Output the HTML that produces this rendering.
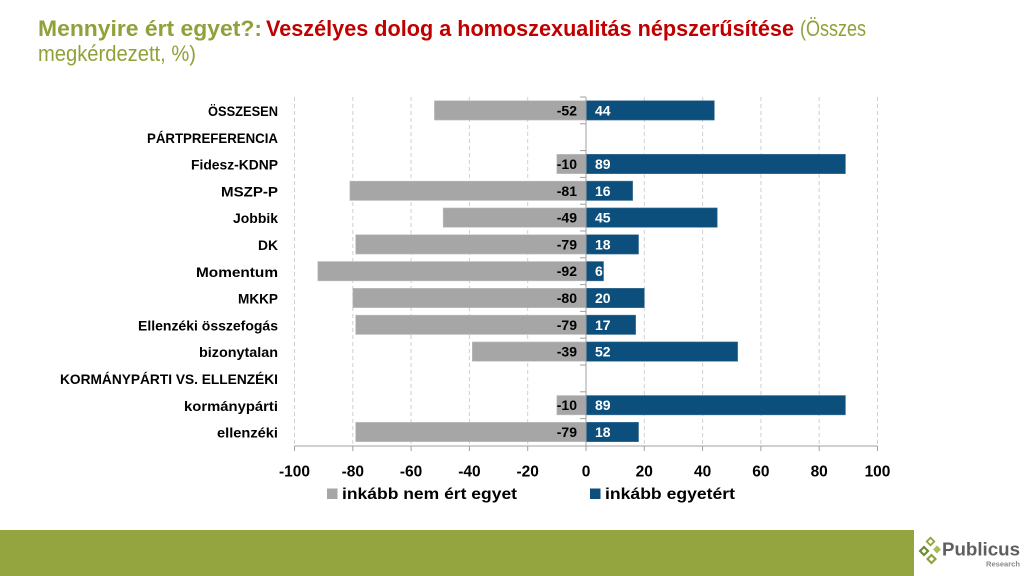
<!DOCTYPE html>
<html>
<head>
<meta charset="utf-8">
<style>
html,body{margin:0;padding:0;background:#fff;}
svg{display:block;}
text{font-family:"Liberation Sans",Arial,sans-serif;}
</style>
</head>
<body>
<svg width="1024" height="576" viewBox="0 0 1024 576" xmlns="http://www.w3.org/2000/svg">
<rect width="1024" height="576" fill="#fff"/>

<!-- Title -->
<text x="38" y="36" font-size="22" font-weight="bold" fill="#8FA23A" textLength="224" lengthAdjust="spacingAndGlyphs">Mennyire ért egyet?:</text>
<text x="266" y="36" font-size="22" font-weight="bold" fill="#C00000" textLength="528" lengthAdjust="spacingAndGlyphs">Veszélyes dolog a homoszexualitás népszerűsítése</text>
<text x="800" y="36" font-size="22" fill="#8FA23A" textLength="66" lengthAdjust="spacingAndGlyphs">(Összes</text>
<text x="38" y="61" font-size="22" fill="#8FA23A" textLength="158" lengthAdjust="spacingAndGlyphs">megkérdezett, %)</text>

<!-- Gridlines -->
<g stroke="#D0D0D0" stroke-width="1" stroke-dasharray="4,3">
<line x1="294.5" y1="97" x2="294.5" y2="446"/>
<line x1="352.8" y1="97" x2="352.8" y2="446"/>
<line x1="411.1" y1="97" x2="411.1" y2="446"/>
<line x1="469.4" y1="97" x2="469.4" y2="446"/>
<line x1="527.7" y1="97" x2="527.7" y2="446"/>
<line x1="644.3" y1="97" x2="644.3" y2="446"/>
<line x1="702.6" y1="97" x2="702.6" y2="446"/>
<line x1="760.9" y1="97" x2="760.9" y2="446"/>
<line x1="819.2" y1="97" x2="819.2" y2="446"/>
<line x1="877.5" y1="97" x2="877.5" y2="446"/>
</g>

<!-- Bars: gray (negative) -->
<g fill="#A6A6A6" stroke="#BFBFBF" stroke-width="0.6">
<rect x="434.4" y="100.75" width="151.6" height="19.3"/>
<rect x="556.85" y="154.35" width="29.15" height="19.3"/>
<rect x="349.9" y="181.15" width="236.1" height="19.3"/>
<rect x="443.2" y="207.95" width="142.8" height="19.3"/>
<rect x="355.7" y="234.75" width="230.3" height="19.3"/>
<rect x="317.8" y="261.55" width="268.2" height="19.3"/>
<rect x="352.8" y="288.35" width="233.2" height="19.3"/>
<rect x="355.7" y="315.15" width="230.3" height="19.3"/>
<rect x="472.3" y="341.95" width="113.7" height="19.3"/>
<rect x="556.85" y="395.55" width="29.15" height="19.3"/>
<rect x="355.7" y="422.35" width="230.3" height="19.3"/>
</g>

<!-- Bars: blue (positive) -->
<g fill="#0D4F7C" stroke="#3A6E95" stroke-width="0.6">
<rect x="586" y="100.75" width="128.3" height="19.3"/>
<rect x="586" y="154.35" width="259.4" height="19.3"/>
<rect x="586" y="181.15" width="46.6" height="19.3"/>
<rect x="586" y="207.95" width="131.2" height="19.3"/>
<rect x="586" y="234.75" width="52.5" height="19.3"/>
<rect x="586" y="261.55" width="17.5" height="19.3"/>
<rect x="586" y="288.35" width="58.3" height="19.3"/>
<rect x="586" y="315.15" width="49.6" height="19.3"/>
<rect x="586" y="341.95" width="151.6" height="19.3"/>
<rect x="586" y="395.55" width="259.4" height="19.3"/>
<rect x="586" y="422.35" width="52.5" height="19.3"/>
</g>

<!-- Axes -->
<g stroke="#A0A0A0" stroke-width="1">
<line x1="586" y1="97" x2="586" y2="446"/>
<line x1="294.5" y1="446" x2="877.5" y2="446"/>
<line x1="580" y1="97" x2="586" y2="97"/>
<line x1="580" y1="123.8" x2="586" y2="123.8"/>
<line x1="580" y1="150.6" x2="586" y2="150.6"/>
<line x1="580" y1="177.4" x2="586" y2="177.4"/>
<line x1="580" y1="204.2" x2="586" y2="204.2"/>
<line x1="580" y1="231" x2="586" y2="231"/>
<line x1="580" y1="257.8" x2="586" y2="257.8"/>
<line x1="580" y1="284.6" x2="586" y2="284.6"/>
<line x1="580" y1="311.4" x2="586" y2="311.4"/>
<line x1="580" y1="338.2" x2="586" y2="338.2"/>
<line x1="580" y1="365" x2="586" y2="365"/>
<line x1="580" y1="391.8" x2="586" y2="391.8"/>
<line x1="580" y1="418.6" x2="586" y2="418.6"/>
<line x1="294.5" y1="446" x2="294.5" y2="451"/>
<line x1="352.8" y1="446" x2="352.8" y2="451"/>
<line x1="411.1" y1="446" x2="411.1" y2="451"/>
<line x1="469.4" y1="446" x2="469.4" y2="451"/>
<line x1="527.7" y1="446" x2="527.7" y2="451"/>
<line x1="586" y1="446" x2="586" y2="451"/>
<line x1="644.3" y1="446" x2="644.3" y2="451"/>
<line x1="702.6" y1="446" x2="702.6" y2="451"/>
<line x1="760.9" y1="446" x2="760.9" y2="451"/>
<line x1="819.2" y1="446" x2="819.2" y2="451"/>
<line x1="877.5" y1="446" x2="877.5" y2="451"/>
</g>

<!-- Negative data labels -->
<g font-size="14" font-weight="bold" fill="#000" text-anchor="end">
<text x="577" y="115.5">-52</text>
<text x="577" y="169">-10</text>
<text x="577" y="195.8">-81</text>
<text x="577" y="222.6">-49</text>
<text x="577" y="249.4">-79</text>
<text x="577" y="276.2">-92</text>
<text x="577" y="303">-80</text>
<text x="577" y="329.8">-79</text>
<text x="577" y="356.6">-39</text>
<text x="577" y="410.2">-10</text>
<text x="577" y="437">-79</text>
</g>

<!-- Positive data labels -->
<g font-size="14" font-weight="bold" fill="#fff">
<text x="595" y="115.5">44</text>
<text x="595" y="169">89</text>
<text x="595" y="195.8">16</text>
<text x="595" y="222.6">45</text>
<text x="595" y="249.4">18</text>
<text x="595" y="276.2">6</text>
<text x="595" y="303">20</text>
<text x="595" y="329.8">17</text>
<text x="595" y="356.6">52</text>
<text x="595" y="410.2">89</text>
<text x="595" y="437">18</text>
</g>

<!-- Category labels -->
<g font-size="14" font-weight="bold" fill="#000" text-anchor="end">
<text x="278" y="116" textLength="70" lengthAdjust="spacingAndGlyphs">ÖSSZESEN</text>
<text x="278" y="142.8" textLength="131" lengthAdjust="spacingAndGlyphs">PÁRTPREFERENCIA</text>
<text x="278" y="169.6" textLength="87" lengthAdjust="spacingAndGlyphs">Fidesz-KDNP</text>
<text x="278" y="196.4" textLength="57" lengthAdjust="spacingAndGlyphs">MSZP-P</text>
<text x="278" y="223.2" textLength="45" lengthAdjust="spacingAndGlyphs">Jobbik</text>
<text x="278" y="250" textLength="20" lengthAdjust="spacingAndGlyphs">DK</text>
<text x="278" y="276.8" textLength="82" lengthAdjust="spacingAndGlyphs">Momentum</text>
<text x="278" y="303.6" textLength="40" lengthAdjust="spacingAndGlyphs">MKKP</text>
<text x="278" y="330.4" textLength="140" lengthAdjust="spacingAndGlyphs">Ellenzéki összefogás</text>
<text x="278" y="357.2" textLength="79" lengthAdjust="spacingAndGlyphs">bizonytalan</text>
<text x="278" y="384" textLength="218" lengthAdjust="spacingAndGlyphs">KORMÁNYPÁRTI VS. ELLENZÉKI</text>
<text x="278" y="410.8" textLength="94" lengthAdjust="spacingAndGlyphs">kormánypárti</text>
<text x="278" y="437.6" textLength="61" lengthAdjust="spacingAndGlyphs">ellenzéki</text>
</g>

<!-- X tick labels -->
<g font-size="15.5" font-weight="bold" fill="#000" text-anchor="middle">
<text x="294.5" y="476.5">-100</text>
<text x="352.8" y="476.5">-80</text>
<text x="411.1" y="476.5">-60</text>
<text x="469.4" y="476.5">-40</text>
<text x="527.7" y="476.5">-20</text>
<text x="586" y="476.5">0</text>
<text x="644.3" y="476.5">20</text>
<text x="702.6" y="476.5">40</text>
<text x="760.9" y="476.5">60</text>
<text x="819.2" y="476.5">80</text>
<text x="877.5" y="476.5">100</text>
</g>

<!-- Legend -->
<rect x="327" y="488.5" width="10.5" height="10.5" fill="#A6A6A6"/>
<text x="342" y="499" font-size="16" font-weight="bold" fill="#000" textLength="175" lengthAdjust="spacingAndGlyphs">inkább nem ért egyet</text>
<rect x="590" y="488.5" width="10.5" height="10.5" fill="#0D4F7C"/>
<text x="605" y="499" font-size="16" font-weight="bold" fill="#000" textLength="130" lengthAdjust="spacingAndGlyphs">inkább egyetért</text>

<!-- Footer -->
<rect x="0" y="530" width="914" height="46" fill="#94A43E"/>
<g>
<polygon points="930.5,536.5 935.5,541.5 930.5,546.5 925.5,541.5" fill="#8DA23C"/>
<polygon points="930.5,539 933,541.5 930.5,544 928,541.5" fill="#fff"/>
<polygon points="924,545.5 929.5,551 924,556.5 918.5,551" fill="#6E8A2E"/>
<polygon points="924,548.5 926.5,551 924,553.5 921.5,551" fill="#fff"/>
<polygon points="931.5,553.5 937,559 931.5,564.5 926,559" fill="#8DA23C"/>
<polygon points="931.5,556.5 934,559 931.5,561.5 929,559" fill="#fff"/>
<polygon points="937,545.5 941,549.5 937,553.5 933,549.5" fill="#A9BB5A"/>
</g>
<text x="942" y="555.5" font-size="18" font-weight="bold" fill="#5E5E5E" textLength="78" lengthAdjust="spacingAndGlyphs">Publicus</text>
<text x="986" y="566.5" font-size="7" font-weight="bold" fill="#8A8A8A" textLength="34" lengthAdjust="spacingAndGlyphs">Research</text>
</svg>
</body>
</html>
